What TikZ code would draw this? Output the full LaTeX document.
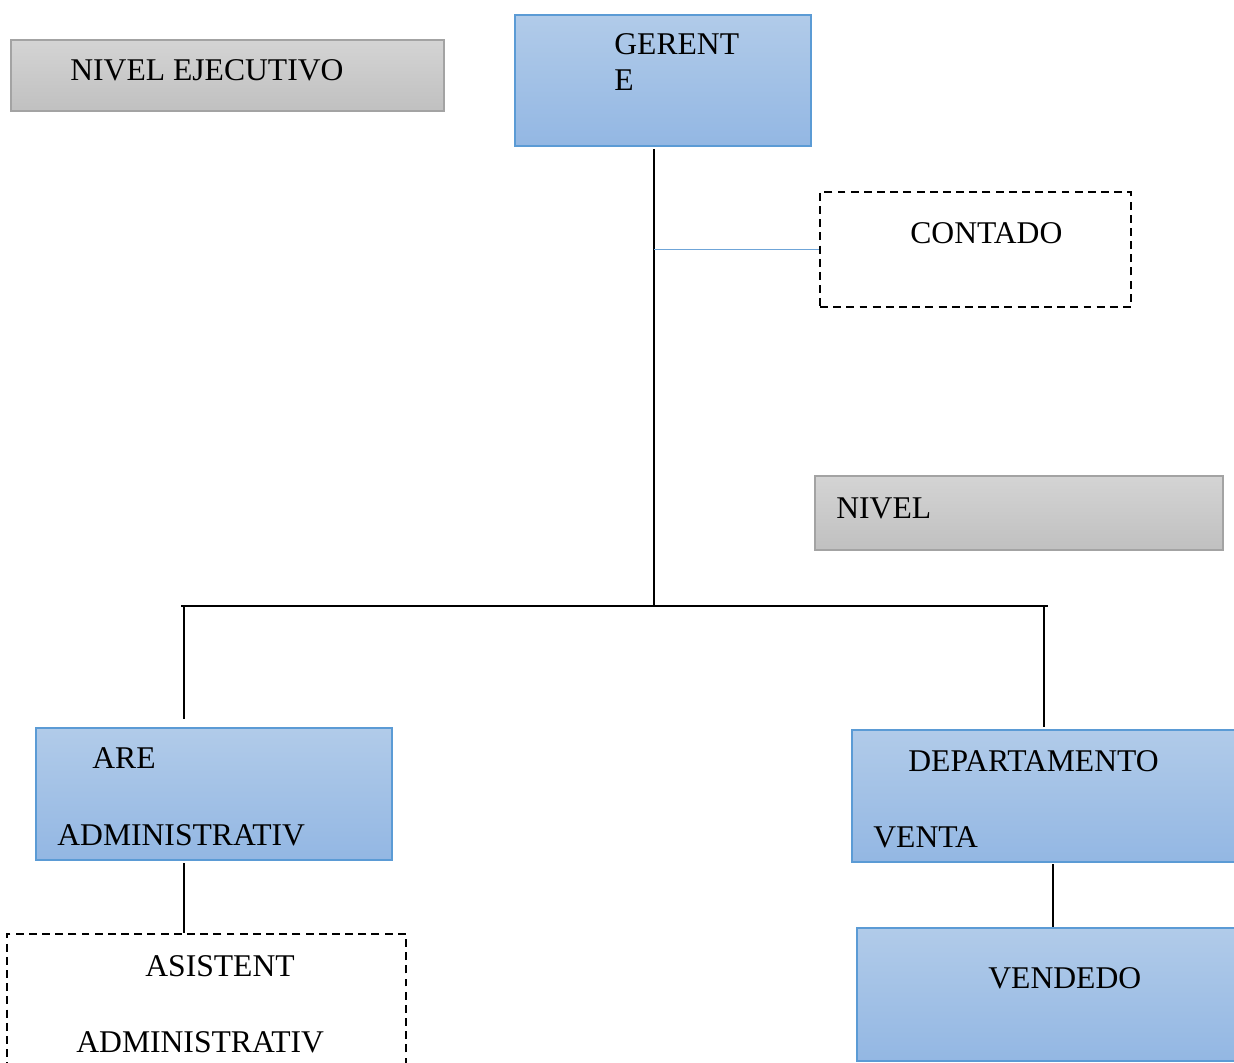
\documentclass[tikz,border=0pt]{standalone}
\usepackage{fontspec}
\setmainfont{Liberation Serif}
\usetikzlibrary{fit}

\definecolor{azulborde}{HTML}{5B9BD5}
\definecolor{azularriba}{HTML}{B1CBE9}
\definecolor{azulabajo}{HTML}{93B7E3}
\definecolor{grisborde}{HTML}{A3A3A3}
\definecolor{grisarriba}{HTML}{D4D4D4}
\definecolor{grisabajo}{HTML}{C0C0C0}
\definecolor{lineaazul}{HTML}{6FA5D8}

\tikzset{
  nivelbox/.style={draw=grisborde, top color=grisarriba, bottom color=grisabajo, line width=0.6pt, inner sep=0},
  cargobox/.style={draw=azulborde, top color=azularriba, bottom color=azulabajo, line width=0.6pt, inner sep=0},
  staffbox/.style={draw, line width=1.2pt, dash pattern=on 4.5pt off 3pt, inner sep=0},
  texto/.style={anchor=base west, inner sep=0, font=\fontsize{18}{22}\selectfont},
}

\begin{document}
\begin{tikzpicture}[x=0.02cm,y=-0.02cm]
\useasboundingbox (0,0) rectangle (1234,1062);
\clip (0,0) rectangle (1234,1062);

% cajas
\node[nivelbox, fit={(11,40) (444,111)}] (ejec) {};
\node[cargobox, fit={(515,15) (811,146)}] (ger) {};
\node[staffbox, fit={(820,192) (1131,307)}] (cont) {};
\node[nivelbox, fit={(815,476) (1223,550)}] (niv) {};
\node[cargobox, fit={(36,728) (392,860)}] (adm) {};
\node[staffbox, fit={(7,934) (406,1075)}] (asis) {};
\node[cargobox, fit={(852,730) (1240,862)}] (dep) {};
\node[cargobox, fit={(857,928) (1240,1061)}] (vend) {};

% textos
\node[texto] (tejec) at (70,80) {NIVEL EJECUTIVO};
\node[texto] (tger1) at (614,54) {GERENT};
\node[texto] (tger2) at (614,90) {E};
\node[texto] (tcont) at (910,243) {CONTADO};
\node[texto] (tniv) at (836,518) {NIVEL};
\node[texto] (tadm1) at (92,768) {ARE};
\node[texto] (tadm2) at (57,845) {ADMINISTRATIV};
\node[texto] (tasis1) at (145,976) {ASISTENT};
\node[texto] (tasis2) at (76,1052) {ADMINISTRATIV};
\node[texto] (tdep1) at (908,771) {DEPARTAMENTO};
\node[texto] (tdep2) at (873,847) {VENTA};
\node[texto] (tvend) at (988,988) {VENDEDO};

% lineas
\coordinate (tronco) at (654,149);
\coordinate (cruce) at (654,606);
\coordinate (izq) at (181,606);
\coordinate (der) at (1048,606);
\coordinate (bajaizq) at (184,719);
\coordinate (bajader) at (1044,727);
\draw[line width=1.6pt] (tronco) -- (cruce);
\draw[line width=1.6pt] (izq) -- (der);
\draw[lineaazul, line width=1.1pt] (tronco |- cont.west) -- (cont.west);
\draw[line width=0.9pt] (bajaizq |- izq) -- (bajaizq);
\draw[line width=0.9pt] (bajader |- der) -- (bajader);
\draw[line width=0.9pt] (184,863) coordinate (a1) -- (a1 |- asis.north);
\draw[line width=0.9pt] (1053,864) coordinate (d1) -- (d1 |- vend.north);
\end{tikzpicture}
\end{document}
